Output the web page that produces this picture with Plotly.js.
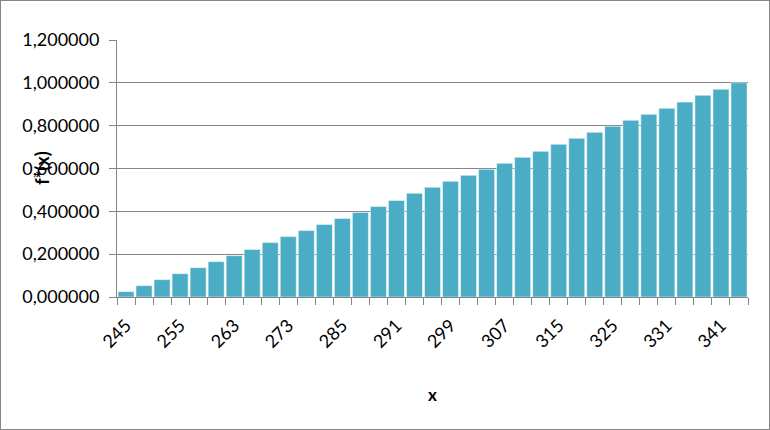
<!DOCTYPE html>
<html>
<head>
<meta charset="utf-8">
<script src="https://cdn.plot.ly/plotly-3.0.1.min.js"></script>
<style>
html,body{margin:0;padding:0;background:#fff;}
#chart{width:768px;height:428px;border:1px solid #868686;}
</style>
</head>
<body>
<div id="chart"></div>
<script>
// Category values (x) — labelled ones, others estimated
var categories = ["245","248","252","255","258","260","263","266","270","273","277","281","285","287","289","291","294","296","299","302","305","307","310","312","315","318","322","325","327","329","331","334","338","341","344"];
// Shown tick labels (every third category)
var tickLabels = ["245","255","263","273","285","291","299","307","315","325","331","341"];
// f*(x) values
var values = [0.025,0.053,0.081,0.109,0.137,0.165,0.193,0.222,0.254,0.282,0.310,0.339,0.367,0.395,0.423,0.451,0.484,0.512,0.540,0.568,0.596,0.624,0.652,0.680,0.713,0.741,0.769,0.797,0.825,0.853,0.881,0.910,0.942,0.970,1.000];

var tickText = categories.map(function(c){ return tickLabels.indexOf(c) >= 0 ? c : ""; });

var font = "Lato, 'Open Sans', sans-serif";
var grey = "#868686";

var trace = {
  type: "bar",
  x: categories,
  y: values,
  marker: {color: "#4BACC6", line: {color: "#ffffff", width: 0.5}},
  hoverinfo: "x+y"
};

var layout = {
  width: 768, height: 428,
  margin: {l: 116, r: 21, t: 39, b: 132},
  paper_bgcolor: "#ffffff",
  plot_bgcolor: "#ffffff",
  separators: ", ",
  bargap: 0.11,
  showlegend: false,
  font: {family: font, size: 18, color: "#000"},
  xaxis: {
    type: "category",
    tickmode: "array",
    tickvals: categories,
    ticktext: tickText,
    tickson: "boundaries",
    ticks: "outside",
    ticklen: 7,
    tickcolor: grey,
    tickwidth: 1,
    tickangle: -45,
    ticklabelstandoff: 10,
    tickfont: {family: font, size: 18, color: "#000"},
    showline: true,
    linecolor: grey,
    linewidth: 1,
    showgrid: false,
    title: {text: "<b>x</b>", font: {family: font, size: 17, color: "#000"}, standoff: 38}
  },
  yaxis: {
    range: [0, 1.2],
    tick0: 0,
    dtick: 0.2,
    tickformat: ".6f",
    ticks: "outside",
    ticklen: 7,
    tickcolor: grey,
    ticklabelstandoff: 6,
    tickfont: {family: font, size: 18, color: "#000"},
    showline: true,
    linecolor: grey,
    linewidth: 1,
    showgrid: true,
    gridcolor: grey,
    gridwidth: 1,
    zeroline: false,
    fixedrange: true
  },
  annotations: [{
    text: "<b>f*(x)</b>",
    textangle: -90,
    xref: "paper", yref: "paper",
    x: -0.12, y: 0.5,
    xanchor: "center", yanchor: "middle",
    showarrow: false,
    font: {family: font, size: 18, color: "#000"}
  }]
};

Plotly.newPlot("chart", [trace], layout, {displayModeBar: false, staticPlot: true});
</script>
</body>
</html>
